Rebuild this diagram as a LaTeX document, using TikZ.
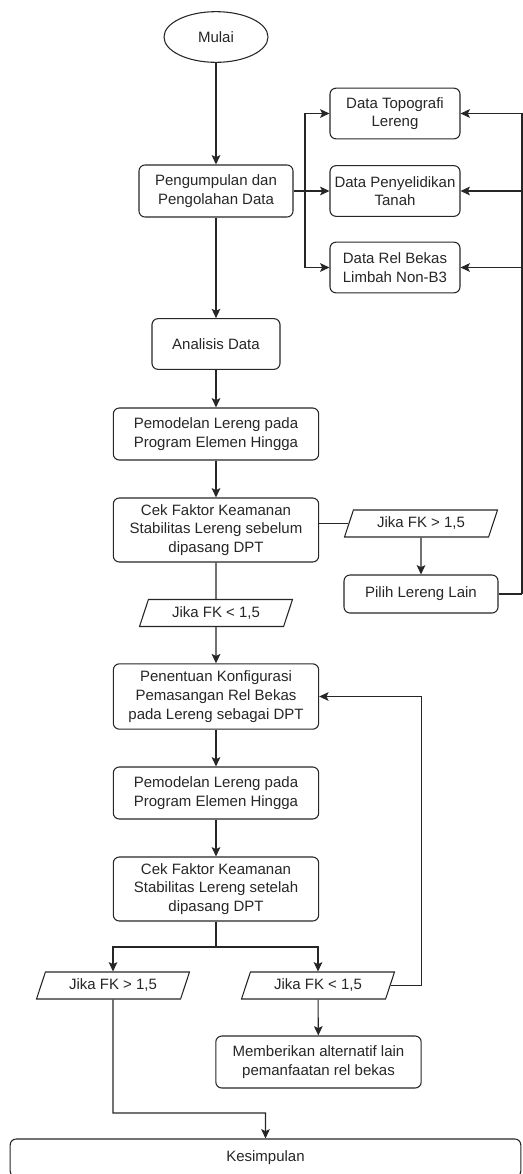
\documentclass[tikz,border=0pt]{standalone}
\usepackage{fontspec}
\setmainfont{Liberation Sans}
\usepackage{tikz}
\usetikzlibrary{shapes.geometric,arrows.meta}

\tikzset{
  proses/.style={rectangle, rounded corners=4.5pt, draw, align=center,
    inner sep=2pt},
  mulai/.style={ellipse, draw, inner sep=0pt, minimum width=78pt,
    minimum height=38pt},
  kondisi/.style={trapezium, trapezium left angle=60, trapezium right angle=120,
    trapezium stretches body, draw, inner sep=1pt, minimum width=114.75pt,
    minimum height=20.25pt}
}

\begin{document}
\begin{tikzpicture}[->, >={Stealth[length=7pt,width=6.5pt,inset=1.5pt]}, x=0.75pt, y=-0.75pt,
    font=\fontsize{11.25}{14}\selectfont, color=black!85, line width=0.8pt]
  \useasboundingbox (0,0) rectangle (523,1174);

  % alur utama
  \node[mulai] (mulai) at (216,37) {Mulai};
  \node[proses, minimum width=115.5pt, minimum height=39pt] (kumpul) at (216,191) {Pengumpulan dan\\Pengolahan Data};
  \node[proses, minimum width=96pt, minimum height=38pt] (analisis) at (216,344) {Analisis Data};
  \node[proses, minimum width=154pt, minimum height=39pt] (model1) at (216,434) {Pemodelan Lereng pada\\Program Elemen Hingga};
  \node[proses, minimum width=154pt, minimum height=48pt] (cek1) at (216,530) {Cek Faktor Keamanan\\Stabilitas Lereng sebelum\\dipasang DPT};
  \node[kondisi] (jika1) at (216,613) {Jika FK < 1,5};
  \node[proses, minimum width=154pt, minimum height=49pt] (tentu) at (216,696.5) {Penentuan Konfigurasi\\Pemasangan Rel Bekas\\pada Lereng sebagai DPT};
  \node[proses, minimum width=154pt, minimum height=39pt] (model2) at (216,793) {Pemodelan Lereng pada\\Program Elemen Hingga};
  \node[proses, minimum width=154pt, minimum height=48pt] (cek2) at (216,889) {Cek Faktor Keamanan\\Stabilitas Lereng setelah\\dipasang DPT};
  \node[kondisi] (aman) at (113,985.5) {Jika FK > 1,5};
  \node[kondisi] (takaman) at (318,985.5) {Jika FK < 1,5};
  \node[proses, minimum width=154pt, minimum height=39pt] (alternatif) at (318.5,1062) {Memberikan alternatif lain\\pemanfaatan rel bekas};
  \node[proses, minimum width=383pt, minimum height=28.5pt] (simpul) at (265.5,1158) {Kesimpulan};

  % data masukan
  \node[proses, minimum width=97.5pt, minimum height=38pt] (topo) at (395,113.5) {Data Topografi\\Lereng};
  \node[proses, minimum width=97.5pt, minimum height=38pt] (tanah) at (395,191) {Data Penyelidikan\\Tanah};
  \node[proses, minimum width=97.5pt, minimum height=38pt] (rel) at (395,267.5) {Data Rel Bekas\\Limbah Non-B3};

  % cabang lereng lain
  \node[kondisi] (jika0) at (421,523.5) {Jika FK > 1,5};
  \node[proses, minimum width=115.5pt, minimum height=28.5pt] (pilih) at (421,594) {Pilih Lereng Lain};

  \coordinate (cabang) at (305,191);
  \coordinate (kanan) at (522,594);
  \coordinate (pisah) at (216,947);
  \coordinate (belok) at (113,1113);

  \draw (mulai) -- (kumpul);
  \draw (kumpul) -- (tanah);
  \draw (cabang) |- (topo.west);
  \draw (cabang) |- (rel.west);
  \draw (kumpul) -- (analisis);
  \draw (analisis) -- (model1);
  \draw (model1) -- (cek1);
  \draw[-] (cek1.east |- jika0.left side) -- (jika0.left side);
  \draw (jika0) -- (pilih);
  \draw[-] (pilih.east) -- (kanan);
  \draw (kanan) |- (topo.east);
  \draw (kanan |- tanah.east) -- (tanah.east);
  \draw (kanan |- rel.east) -- (rel.east);
  \draw[-] (cek1) -- (jika1);
  \draw (jika1) -- (tentu);
  \draw (tentu) -- (model2);
  \draw (model2) -- (cek2);
  \draw[-] (cek2) -- (pisah);
  \draw (pisah) -| (aman.north);
  \draw (pisah) -| (takaman.north);
  \draw (takaman.right side) -| (alternatif.east |- tentu.east) -- (tentu.east);
  \draw (takaman) -- (alternatif);
  \draw (aman.south) -- (belok) -| (simpul.north);
\end{tikzpicture}
\end{document}
